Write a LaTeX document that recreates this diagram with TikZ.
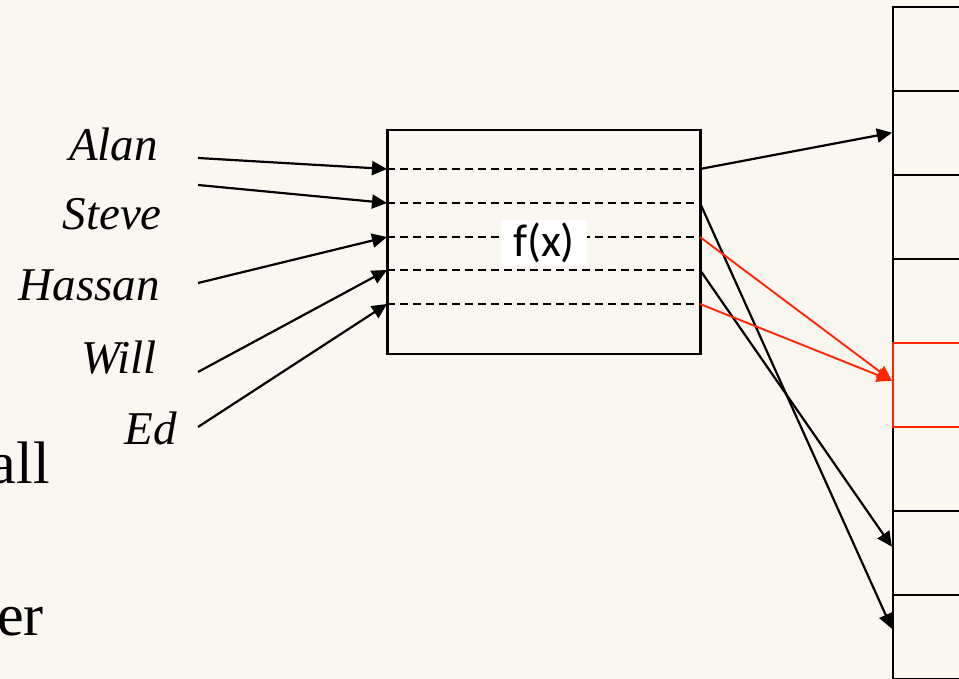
\documentclass[tikz,border=0pt]{standalone}
\usepackage{fontspec}
\setmainfont{Liberation Serif}
\newfontfamily\calibri{Carlito}
\usepackage{tikz}
\usetikzlibrary{arrows.meta, shapes}
\definecolor{paper}{RGB}{249,247,240}
\definecolor{hotred}{RGB}{255,38,0}

\begin{document}
\begin{tikzpicture}[x=1pt, y=-1pt]
            \useasboundingbox (0,0) rectangle (959,679);
            \fill[paper] (0,0) rectangle (959,679);
            \clip (0,0) rectangle (959,679);

            % slide text running in from the left
            \begin{scope}[every node/.style={anchor=base east, inner sep=0,
                          font=\fontsize{60}{60}\selectfont}]
                \node (all) at (50,483) {all};
                \node (er) at (44,635) {er};
            \end{scope}

            % keys
            \begin{scope}[every node/.style={anchor=base east, inner sep=0,
                          font=\fontsize{47}{47}\selectfont\itshape}]
                \node (Alan) at (158,161) {Alan};
                \node (Steve) at (162,230) {Steve};
                \node (Hassan) at (160,301) {Hassan};
                \node (Will) at (157,373) {Will};
                \node (Ed) at (177,444) {Ed};
            \end{scope}
            \coordinate (tA) at (198,158);
            \coordinate (tS) at (198,185);
            \coordinate (tH) at (198,283);
            \coordinate (tW) at (198,372);
            \coordinate (tE) at (198,427);

            % hash function
            \node[draw, line width=2.2pt, minimum width=313pt, minimum height=224pt] (F) at (544,242) {};
            \foreach \i/\y in {1/169,2/203,3/237,4/270,5/304} {
                \coordinate (r\i) at (387,\y);
                \coordinate (o\i) at (700,\y);
                \draw[line width=2pt, dash pattern=on 8pt off 5pt] (r\i) -- (o\i);
            }
            \node[fill=white, inner sep=0, minimum width=86pt, minimum height=46pt,
                  font=\calibri\fontsize{46}{46}\selectfont] (fx) at (544,243) {f(x)};

            % buckets
            \begin{scope}[every node/.style={draw, line width=2.2pt, inner sep=0,
                          minimum width=200pt, minimum height=84pt}]
                \foreach \i in {0,1,2,3,5,6,7}
                    \node (c\i) at (993,48.7+84*\i) {};
                \node[draw=hotred] (c4) at (993,384.7) {};
            \end{scope}

            \begin{scope}[>={Triangle[length=15pt,width=14pt]},
                          every edge/.style={draw=black, line width=2.2pt}]
                \path[->] (tA) edge (r1);
                \path[->] (tS) edge (r2);
                \path[->] (tH) edge (r3);
                \path[->] (tW) edge (r4);
                \path[->] (tE) edge (r5);
                \path[->] (o1) edge (c1.west);
                \path[->] (o2) edge ([yshift=8pt]c7.west);
                \path[->] (o4) edge ([yshift=6pt]c6.west);
            \end{scope}
            \begin{scope}[>={Triangle[length=15pt,width=14pt]},
                          every edge/.style={draw=hotred, line width=1.9pt}]
                \path[->] (o3) edge ([yshift=4pt]c4.west);
                \path[->] (o5) edge ([yshift=4pt]c4.west);
            \end{scope}
\end{tikzpicture}
\end{document}
